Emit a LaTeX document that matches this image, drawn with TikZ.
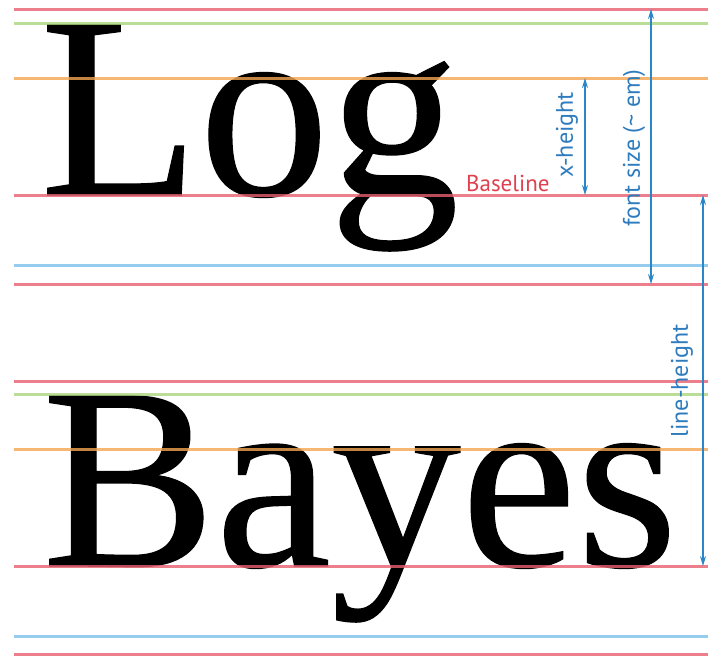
\documentclass[tikz,border=0pt]{standalone}
\usepackage{fontspec}
\setmainfont[FakeBold=0.5]{Liberation Serif}
\newfontfamily\labelfont{PT Sans}
\usetikzlibrary{arrows.meta}
\definecolor{gred}{HTML}{E8606E}
\definecolor{ggreen}{HTML}{A9D67E}
\definecolor{gorange}{HTML}{F5A550}
\definecolor{gblue}{HTML}{7CC0EA}
\definecolor{ablue}{HTML}{2A86C8}
\definecolor{tblue}{HTML}{2E7CBE}
\definecolor{tred}{HTML}{E0404F}
\tikzset{
  guide/.style={line width=3pt, opacity=0.8},
  measure/.style={draw=ablue, line width=1.4pt, {Stealth[length=10pt,width=6pt]}-{Stealth[length=10pt,width=6pt]}},
  bigword/.style={inner sep=0pt, anchor=base west, font=\fontsize{260}{260}\selectfont},
  mlabel/.style={text=tblue, font=\labelfont\fontsize{24}{24}\selectfont, rotate=90, inner sep=1pt},
}
\begin{document}
\begin{tikzpicture}[x=1pt,y=-1pt]
\useasboundingbox[fill=white] (0,0) rectangle (708,659);
% words
\node[bigword] (log) at (40,195) {Log};
\node[bigword] (bayes) at (42,566) {Bayes};
% guide lines
\foreach \yy/\cc in {9/gred, 23/ggreen, 78/gorange, 195/gred, 265/gblue, 284/gred,
                     381/gred, 394/ggreen, 449/gorange, 566/gred, 636/gblue, 654/gred}
  \draw[guide, draw=\cc] (14,\yy) -- (708,\yy);
% baseline label
\node[text=tred, font=\labelfont\fontsize{23}{23}\selectfont, anchor=base west, inner sep=0pt] (baseline) at (466,191) {Baseline};
% measurement arrows
\coordinate (xh1) at (585,78);
\coordinate (xh2) at (585,195);
\coordinate (fs1) at (651,9);
\coordinate (fs2) at (651,284);
\coordinate (lh1) at (703,195);
\coordinate (lh2) at (703,566);
\draw[measure] (xh1) -- (xh2);
\draw[measure] (fs1) -- (fs2);
\draw[measure] (lh1) -- (lh2);
% labels
\node[mlabel] (xlab) at (567,135) {x-height};
\node[mlabel] (fslab) at (634,148) {font size (\textasciitilde{} em)};
\node[mlabel] (lhlab) at (682,381) {line-height};
\end{tikzpicture}
\end{document}
